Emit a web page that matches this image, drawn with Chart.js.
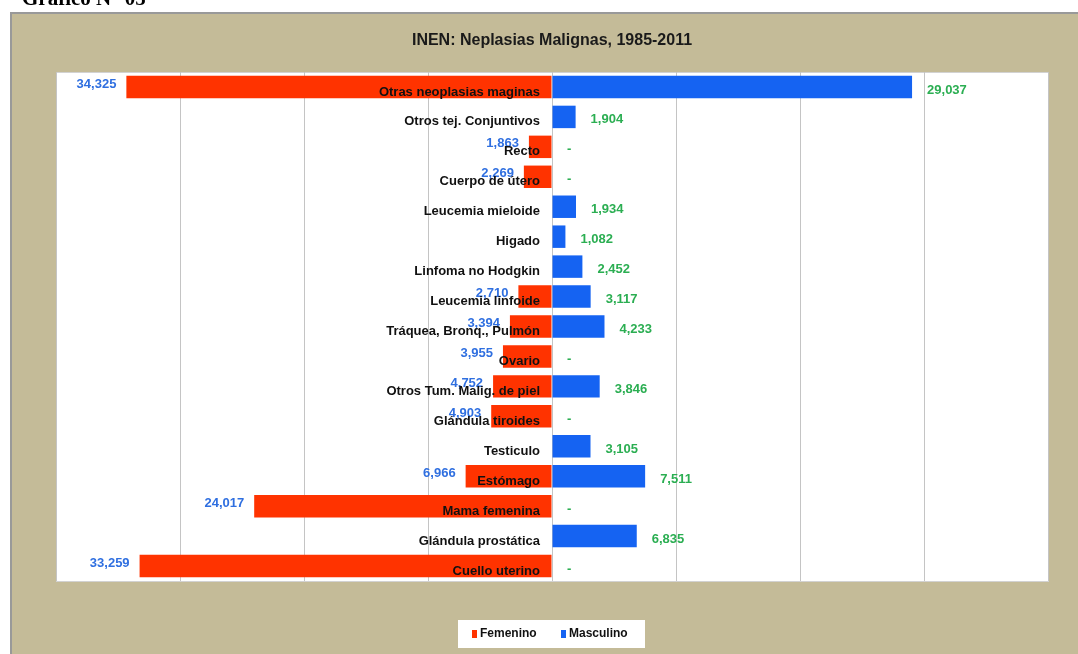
<!DOCTYPE html>
<html>
<head>
<meta charset="utf-8">
<script src="https://cdn.jsdelivr.net/npm/chart.js@4.4.0/dist/chart.umd.min.js"></script>
<style>
  body { margin: 0; background: #fff; overflow: hidden; }
  #wrap { position: relative; width: 1078px; height: 654px; }
  #caption { position: absolute; left: 22px; top: -12px; font: bold 21px "Liberation Serif", "Times New Roman", serif; color: #000; z-index: 2; line-height: 21px; }
</style>
</head>
<body>
<div id="wrap">
  <div id="caption">Gráfico N° 05</div>
  <canvas id="chart" width="1078" height="654"></canvas>
</div>
<script>
// datos del grafico
const categorias = [
  'Otras neoplasias maginas', 'Otros tej. Conjuntivos', 'Recto', 'Cuerpo de útero',
  'Leucemia mieloide', 'Higado', 'Linfoma no Hodgkin', 'Leucemia linfoide',
  'Tráquea, Bronq., Pulmón', 'Ovario', 'Otros Tum. Malig. de piel', 'Glándula tiroides',
  'Testiculo', 'Estómago', 'Mama femenina', 'Glándula prostática', 'Cuello uterino'
];
const femenino = [34325, null, 1863, 2269, null, null, null, 2710, 3394, 3955, 4752, 4903, null, 6966, 24017, null, 33259];
const masculino = [29037, 1904, 0, 0, 1934, 1082, 2452, 3117, 4233, 0, 3846, 0, 3105, 7511, 0, 6835, 0];
const titulo = 'INEN: Neplasias Malignas, 1985-2011';

const ROJO = '#FF3300';
const AZUL = '#1563F2';

function fmt(n) {
  return n.toLocaleString('en-US');
}

// fondo, titulo, etiquetas y leyenda
const decoraciones = {
  id: 'decoraciones',
  beforeDraw(chart) {
    const ctx = chart.ctx;
    const a = chart.chartArea;
    ctx.save();
    ctx.fillStyle = '#C4BB98';
    ctx.fillRect(10, 12, 1068, 642);
    ctx.strokeStyle = '#999';
    ctx.lineWidth = 2;
    ctx.strokeRect(11, 13, 1070, 645);
    ctx.fillStyle = '#fff';
    ctx.fillRect(a.left, a.top, a.right - a.left, a.bottom - a.top);
    ctx.strokeStyle = '#D2D2D2';
    ctx.lineWidth = 1;
    ctx.strokeRect(a.left + 0.5, a.top + 0.5, a.right - a.left, a.bottom - a.top);

    ctx.fillStyle = '#1a1a1a';
    ctx.font = 'bold 16px "Liberation Sans", Arial, sans-serif';
    ctx.textAlign = 'center';
    ctx.textBaseline = 'middle';
    ctx.fillText(titulo, 552, 41);
    ctx.restore();
  },
  afterDatasetsDraw(chart) {
    const ctx = chart.ctx;
    const x = chart.scales.x;
    const y = chart.scales.y;
    const x0 = x.getPixelForValue(0);
    ctx.save();
    ctx.font = 'bold 13px "Liberation Sans", Arial, sans-serif';
    ctx.textBaseline = 'middle';

    // valores femeninos
    ctx.fillStyle = '#2F6FE0';
    ctx.textAlign = 'right';
    femenino.forEach((v, i) => {
      if (v == null) return;
      ctx.fillText(fmt(v), x.getPixelForValue(-v) - 10, y.getPixelForValue(i) - 3);
    });

    // categorias
    ctx.fillStyle = '#111';
    categorias.forEach((c, i) => {
      ctx.fillText(c, x0 - 12, y.getPixelForValue(i) + 5);
    });

    // valores masculinos
    ctx.fillStyle = '#2BAE52';
    ctx.textAlign = 'left';
    masculino.forEach((v, i) => {
      ctx.fillText(v ? fmt(v) : '-', x.getPixelForValue(v || 0) + 15, y.getPixelForValue(i) + 3);
    });

    // leyenda
    ctx.font = 'bold 12px "Liberation Sans", Arial, sans-serif';
    ctx.fillStyle = '#fff';
    ctx.fillRect(458, 620, 187, 28);
    ctx.fillStyle = ROJO;
    ctx.fillRect(472, 630, 5, 8);
    ctx.fillStyle = AZUL;
    ctx.fillRect(561, 630, 5, 8);
    ctx.fillStyle = '#111';
    ctx.fillText(chart.data.datasets[0].label, 480, 634);
    ctx.fillText(chart.data.datasets[1].label, 569, 634);
    ctx.restore();
  }
};

const chart = new Chart(document.getElementById('chart').getContext('2d'), {
  type: 'bar',
  data: {
    labels: categorias,
    datasets: [
      {
        label: 'Femenino',
        data: femenino.map(v => v == null ? null : -v),
        backgroundColor: ROJO,
        grouped: false,
        barPercentage: 0.75,
        categoryPercentage: 1
      },
      {
        label: 'Masculino',
        data: masculino,
        backgroundColor: AZUL,
        grouped: false,
        barPercentage: 0.75,
        categoryPercentage: 1
      }
    ]
  },
  options: {
    indexAxis: 'y',
    responsive: false,
    animation: false,
    layout: { padding: { left: 56, right: 30, top: 72, bottom: 73 } },
    plugins: {
      legend: { display: false },
      title: { display: false },
      tooltip: { enabled: false }
    },
    scales: {
      x: {
        min: -40000,
        max: 40000,
        ticks: { display: false, stepSize: 10000 },
        grid: { color: '#C4C4C4', drawTicks: false },
        border: { display: false }
      },
      y: {
        display: false
      }
    }
  },
  plugins: [decoraciones]
});
</script>
</body>
</html>
